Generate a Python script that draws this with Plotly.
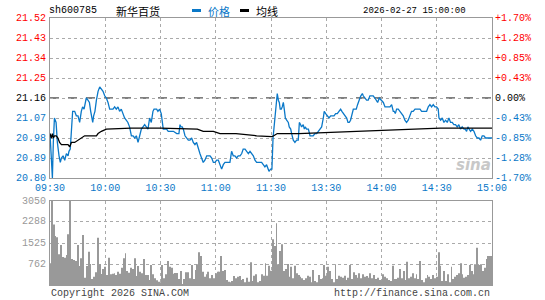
import plotly.graph_objects as go

# ---------------- data ----------------
stock_code = "sh600785"
stock_name = "新华百货"
timestamp = "2026-02-27 15:00:00"
prev_close = 21.16

price_levels = [21.52, 21.43, 21.34, 21.25, 21.16, 21.07, 20.98, 20.89, 20.80]
pct_labels = ["+1.70%", "+1.28%", "+0.85%", "+0.43%", "0.00%", "-0.43%", "-0.85%", "-1.28%", "-1.70%"]
time_ticks = [0, 30, 60, 90, 120, 150, 180, 210, 240]
time_labels = ["09:30", "10:00", "10:30", "11:00", "11:30", "13:30", "14:00", "14:30", "15:00"]
vol_ticks = [762, 1525, 2288, 3050]

# minute offsets from 09:30 (trading minutes) and prices
price_minutes = [
    0, 0.7, 1.3, 1.8, 2.4, 3.3, 4.0, 4.9, 5.6, 6.2, 7.1, 8.0, 8.9, 9.8, 10.3, 11.0, 11.6, 12.3, 13.4, 14.3,
    15.2, 16.1, 17.0, 17.7, 18.5, 19.2, 19.7, 20.6, 21.4, 22.1, 22.6, 23.2, 23.7, 24.4, 25.2, 26.1, 27.0, 27.9,
    28.8, 29.7, 30.6, 31.5, 32.4, 33.3, 34.2, 35.1, 36.0, 36.9, 37.8, 38.7, 39.6, 40.5, 41.4, 42.3, 43.2, 44.2,
    45.1, 46.0, 46.9, 47.8, 48.7, 49.6, 50.5, 51.4, 52.3, 53.2, 54.1, 55.0, 55.9, 56.5, 57.2, 57.9, 58.6, 59.5,
    60.4, 61.0, 61.5, 62.4, 63.3, 64.2, 65.1, 67.0, 68.8, 70.0, 70.6, 71.1, 71.8, 72.4, 73.3, 74.2, 75.1, 76.0,
    76.9, 77.8, 78.7, 79.6, 80.2, 80.9, 81.4, 82.3, 83.2, 84.1, 85.1, 85.9, 86.9, 87.8, 88.7, 89.6, 90.5, 91.4,
    92.3, 93.2, 94.1, 95.0, 95.9, 96.8, 97.7, 98.6, 99.5, 100.4, 101.3, 102.2, 103.2, 104.1, 104.9, 105.9,
    106.8, 107.7, 108.6, 109.5, 110.4, 111.3, 112.2, 113.1, 114.0, 114.9, 115.8, 116.7, 117.6, 118.2, 118.9,
    119.8, 120.5,
    121.1, 121.6, 122.2, 122.7, 123.1, 123.4, 124.0, 124.5, 125.0, 125.6, 126.1, 126.7, 127.2, 127.8, 128.5,
    129.4, 129.9, 130.7, 131.2, 132.1, 133.0, 133.9, 134.8, 135.4, 136.1, 136.6, 137.5, 138.1, 138.6, 139.3,
    140.3, 141.2, 142.1, 142.9, 143.9, 144.8, 145.7, 146.6, 147.5, 148.4, 148.9, 149.7, 150.6, 151.5, 152.4,
    153.3, 154.2, 155.1, 156.0, 156.9, 157.8, 158.5, 159.3, 160.2, 161.1, 161.8, 162.5, 163.2, 163.9, 164.7,
    165.6, 166.3, 167.0, 167.6, 168.3, 168.8, 169.6, 170.1, 171.0, 171.9, 172.8, 173.7, 174.6, 175.5, 176.4,
    177.3, 177.9, 178.8, 179.7, 181.0, 181.9, 182.8, 183.7, 184.6, 185.5, 185.9, 186.4, 186.9, 187.5, 188.2,
    189.1, 190.0, 190.9, 191.8, 192.7, 193.6, 194.5, 195.4, 196.3, 197.2, 198.2, 199.1, 200.0, 200.9, 201.8,
    202.7, 203.6, 204.5, 205.4, 206.3, 207.2, 208.1, 209.0, 209.9, 210.8, 211.2, 212.1, 213.0, 213.9, 214.8,
    215.7, 216.6, 217.5, 218.4, 219.3, 220.2, 221.1, 222.0, 222.9, 223.8, 224.8, 225.5, 226.2, 226.9, 227.6,
    228.4, 229.3, 230.2, 231.1, 232.0, 232.9, 233.8, 234.7, 235.6, 236.5, 237.4, 238.9, 240.0,
]
prices = [
    21.00, 20.90, 20.80, 20.96, 21.07, 21.05, 20.96, 20.90, 20.87, 20.89, 20.90, 20.88, 20.91, 20.90, 20.92,
    20.93, 21.02, 21.10, 21.10, 21.08, 21.08, 21.05, 21.10, 21.12, 21.11, 21.14, 21.16, 21.15, 21.14, 21.10,
    21.07, 21.05, 21.08, 21.10, 21.15, 21.19, 21.21, 21.20, 21.19, 21.17, 21.16, 21.14, 21.11, 21.11, 21.11,
    21.12, 21.11, 21.12, 21.10, 21.11, 21.09, 21.07, 21.06, 21.05, 21.03, 20.99, 20.99, 20.98, 20.99, 20.96,
    20.99, 21.02, 21.03, 21.04, 21.03, 21.02, 21.07, 21.05, 21.10, 21.11, 21.11, 21.11, 21.10, 21.11, 21.09,
    21.04, 21.02, 21.02, 21.02, 21.01, 21.01, 21.01, 21.00, 21.00, 21.04, 21.03, 21.03, 21.02, 20.99, 20.98,
    20.97, 20.97, 20.98, 20.96, 20.95, 20.96, 20.94, 20.92, 20.91, 20.89, 20.87, 20.88, 20.90, 20.90, 20.90,
    20.89, 20.87, 20.87, 20.88, 20.88, 20.86, 20.84, 20.86, 20.87, 20.87, 20.87, 20.87, 20.92, 20.90, 20.90,
    20.89, 20.90, 20.90, 20.91, 20.93, 20.93, 20.92, 20.91, 20.92, 20.91, 20.90, 20.88, 20.87, 20.87, 20.87,
    20.87, 20.86, 20.85, 20.86, 20.84, 20.83, 20.84, 20.84,
    20.98, 21.03, 21.07, 21.13, 21.15, 21.18, 21.15, 21.14, 21.11, 21.11, 21.12, 21.14, 21.11, 21.07, 21.06,
    21.05, 21.03, 21.02, 21.00, 20.97, 20.96, 20.97, 20.97, 21.05, 21.04, 21.03, 21.04, 21.02, 21.03, 21.02,
    21.02, 20.99, 20.99, 20.99, 21.00, 21.00, 21.01, 21.02, 21.03, 21.07, 21.10, 21.09, 21.08, 21.07, 21.08,
    21.08, 21.08, 21.09, 21.09, 21.10, 21.11, 21.10, 21.09, 21.08, 21.07, 21.05, 21.05, 21.06, 21.09, 21.11,
    21.11, 21.11, 21.13, 21.15, 21.16, 21.17, 21.18, 21.17, 21.16, 21.15, 21.15, 21.17, 21.17, 21.17, 21.16,
    21.15, 21.14, 21.16, 21.15, 21.14, 21.12, 21.12, 21.12, 21.12, 21.13, 21.11, 21.10, 21.10, 21.09, 21.11,
    21.11, 21.10, 21.09, 21.08, 21.06, 21.05, 21.06, 21.08, 21.10, 21.10, 21.11, 21.11, 21.11, 21.11, 21.10,
    21.10, 21.10, 21.10, 21.12, 21.13, 21.12, 21.13, 21.12, 21.12, 21.11, 21.07, 21.06, 21.07, 21.05, 21.06,
    21.05, 21.07, 21.05, 21.05, 21.04, 21.04, 21.03, 21.04, 21.02, 21.03, 21.02, 21.02, 21.01, 21.03, 21.02,
    21.01, 21.02, 21.01, 20.99, 20.98, 20.98, 20.97, 20.99, 20.99, 20.98, 20.98, 20.98, 20.98,
]

avg_minutes = [0, 0.7, 1.3, 1.8, 2.5, 3.4, 4.3, 5.2, 6.2, 8.0, 9.8, 10.7, 11.6, 13.4, 15.2, 17.0, 18.8, 20.6,
               22.4, 25.2, 26.1, 27.9, 30.6, 35.1, 44.0, 60.0, 80.0, 83.2, 88.7, 92.3, 101.0, 112.2, 120.5,
               121.5, 123.4, 135.0, 153.8, 167.4, 181.0, 200.0, 201.0, 212.0, 240.0]
avg_prices = [21.00, 20.98, 21.00, 20.98, 20.99, 20.99, 20.98, 20.96, 20.95, 20.95, 20.95, 20.94, 20.96,
              20.96, 20.97, 20.98, 20.99, 20.99, 20.99, 20.99, 21.00, 21.01, 21.02, 21.022, 21.024, 21.024,
              21.02, 21.01, 21.01, 21.00, 21.00, 20.99, 20.986, 20.99, 21.00, 21.00, 21.006, 21.011, 21.016,
              21.02, 21.022, 21.024, 21.024]

volume = [
    786, 3050, 2200, 1780, 1730, 1113, 1450, 1016, 992, 1090, 1840, 3050, 944, 908, 871, 1450, 690, 968, 1815, 266,
    690, 1210, 762, 218, 300, 460, 1718, 750, 400, 580, 665, 363, 992, 387, 411, 424, 363, 484, 411, 629,
    968, 1150, 508, 448, 629, 580, 968, 327, 690, 484, 424, 944, 363, 363, 180, 726, 387, 242, 170, 121,
    97, 726, 242, 387, 871, 665, 629, 411, 436, 436, 218, 508, 24, 218, 460, 460, 242, 726, 218, 545,
    750, 1186, 1053, 484, 300, 387, 484, 242, 363, 242, 424, 484, 484, 1053, 508, 545, 180, 121, 97, 145,
    327, 242, 300, 327, 180, 218, 97, 266, 121, 823, 145, 339, 387, 97, 145, 387, 339, 786, 339, 702,
    520, 1658, 1416, 2240, 750, 1234, 1476, 508, 580, 762, 300, 665, 242, 702, 424, 363, 300, 242, 180, 242,
    339, 300, 97, 545, 145, 97, 363, 218, 242, 726, 339, 665, 508, 218, 97, 750, 218, 339, 300, 266,
    339, 180, 266, 726, 218, 460, 363, 266, 424, 242, 387, 300, 327, 266, 424, 242, 363, 218, 266, 180,
    170, 387, 300, 242, 180, 145, 702, 218, 218, 266, 580, 242, 508, 180, 847, 242, 300, 424, 242, 387,
    218, 871, 180, 97, 242, 363, 300, 218, 363, 242, 300, 1186, 702, 145, 508, 145, 387, 97, 665, 218,
    300, 363, 424, 786, 387, 266, 300, 363, 726, 508, 387, 750, 1355, 726, 750, 508, 629, 944, 1053, 1053,
    1053,
]
vol_minutes = list(range(len(volume)))

# ---------------- style ----------------
W, H = 545, 300
BLUE = "#0a78c8"
RED = "#ff0000"
GRID = "#aaaaaa"
FRAME = "#999999"
MONO = "Liberation Mono, DejaVu Sans Mono, monospace"
CJK = "Noto Sans CJK SC"


def fx(p):
    return p / W


def fy(p):
    return 1 - p / H


def col_for(v):
    if v > prev_close + 1e-9:
        return RED
    if v < prev_close - 1e-9:
        return BLUE
    return "#000000"


fig = go.Figure()
fig.add_trace(go.Bar(x=vol_minutes, y=volume, xaxis="x2", yaxis="y3", marker_color="#999999",
                     marker_line_width=0, width=0.5, showlegend=False, hoverinfo="skip"))
fig.add_trace(go.Scatter(x=price_minutes, y=prices, mode="lines", line=dict(color=BLUE, width=1.3),
                         xaxis="x", yaxis="y", showlegend=False))
fig.add_trace(go.Scatter(x=avg_minutes, y=avg_prices, mode="lines", line=dict(color="#000000", width=1.3),
                         xaxis="x", yaxis="y", showlegend=False))

xdom = [fx(50), fx(492)]
axis_common = dict(showgrid=True, gridcolor=GRID, griddash="dot", gridwidth=1, showline=True, mirror=True,
                   linecolor=FRAME, linewidth=1, zeroline=False, ticks="", automargin=False)

# axis value labels placed against the axes' own data scales
annotations = []
for v, pct in zip(price_levels, pct_labels):
    c = col_for(v)
    annotations.append(dict(text=f"{v:.2f}", x=fx(47), y=v, xref="paper", yref="y", xanchor="right",
                            yanchor="middle", showarrow=False, borderpad=0,
                            font=dict(family=MONO, size=10, color=c)))
    annotations.append(dict(text=pct, x=fx(494), y=v, xref="paper", yref="y", xanchor="left",
                            yanchor="middle", showarrow=False, borderpad=0,
                            font=dict(family=MONO, size=10, color=c)))
for v in vol_ticks:
    annotations.append(dict(text=str(v), x=fx(47), y=v, xref="paper", yref="y3", xanchor="right",
                            yanchor="middle", showarrow=False, borderpad=0,
                            font=dict(family=MONO, size=10, color="#999999")))

annotations += [
    dict(text=stock_code, x=fx(47), y=fy(11), xref="paper", yref="paper", xanchor="left", yanchor="middle",
         showarrow=False, font=dict(family=MONO, size=10, color="#000000")),
    dict(text=stock_name, x=fx(114), y=fy(11), xref="paper", yref="paper", xanchor="left", yanchor="middle",
         showarrow=False, font=dict(family=CJK, size=11, color="#000000")),
    dict(text="价格", x=fx(206), y=fy(11), xref="paper", yref="paper", xanchor="left", yanchor="middle",
         showarrow=False, font=dict(family=CJK, size=11, color=BLUE)),
    dict(text="均线", x=fx(254), y=fy(11), xref="paper", yref="paper", xanchor="left", yanchor="middle",
         showarrow=False, font=dict(family=CJK, size=11, color="#000000")),
    dict(text=timestamp, x=fx(468), y=fy(11), xref="paper", yref="paper", xanchor="right", yanchor="middle",
         showarrow=False, font=dict(family=MONO, size=9, color="#000000")),
    dict(text="Copyright 2026 SINA.COM", x=fx(49), y=fy(293), xref="paper", yref="paper", xanchor="left",
         yanchor="middle", showarrow=False, font=dict(family=MONO, size=10, color="#444444")),
    dict(text="http://finance.sina.com.cn", x=fx(492), y=fy(293), xref="paper", yref="paper",
         xanchor="right", yanchor="middle", showarrow=False, font=dict(family=MONO, size=10, color="#444444")),
    dict(text="<b><i>sina</i></b>", x=fx(473), y=fy(165), xref="paper", yref="paper", xanchor="center",
         yanchor="middle", showarrow=False, font=dict(family="DejaVu Sans", size=15, color="#c8c8c8")),
]

fig.update_layout(
    width=W, height=H, margin=dict(l=0, r=0, t=0, b=0, autoexpand=False),
    paper_bgcolor="white", plot_bgcolor="white",
    font=dict(family=MONO, size=10),
    xaxis=dict(domain=xdom, range=[0, 240], anchor="y", tickvals=time_ticks, ticktext=time_labels,
               tickfont=dict(color=BLUE, size=10, family=MONO), **axis_common),
    yaxis=dict(domain=[fy(178), fy(18)], range=[20.80, 21.52], anchor="x", tickvals=price_levels,
               showticklabels=False, **axis_common),
    xaxis2=dict(domain=xdom, range=[0, 240], anchor="y3", tickvals=time_ticks, showticklabels=False,
                **axis_common),
    yaxis3=dict(domain=[fy(285), fy(201)], range=[0, 3050], anchor="x2", tickvals=vol_ticks,
                showticklabels=False, **axis_common),
    shapes=[
        dict(type="line", xref="x domain", yref="y", x0=0, x1=1, y0=prev_close, y1=prev_close,
             line=dict(color="#000000", width=1, dash="dash"), layer="below"),
        dict(type="rect", xref="paper", yref="paper", x0=fx(192), x1=fx(201), y0=fy(12), y1=fy(9),
             fillcolor=BLUE, line=dict(width=0)),
        dict(type="rect", xref="paper", yref="paper", x0=fx(240), x1=fx(249), y0=fy(12), y1=fy(9),
             fillcolor="#000000", line=dict(width=0)),
    ],
    annotations=annotations,
)

fig.write_html("out.html")
